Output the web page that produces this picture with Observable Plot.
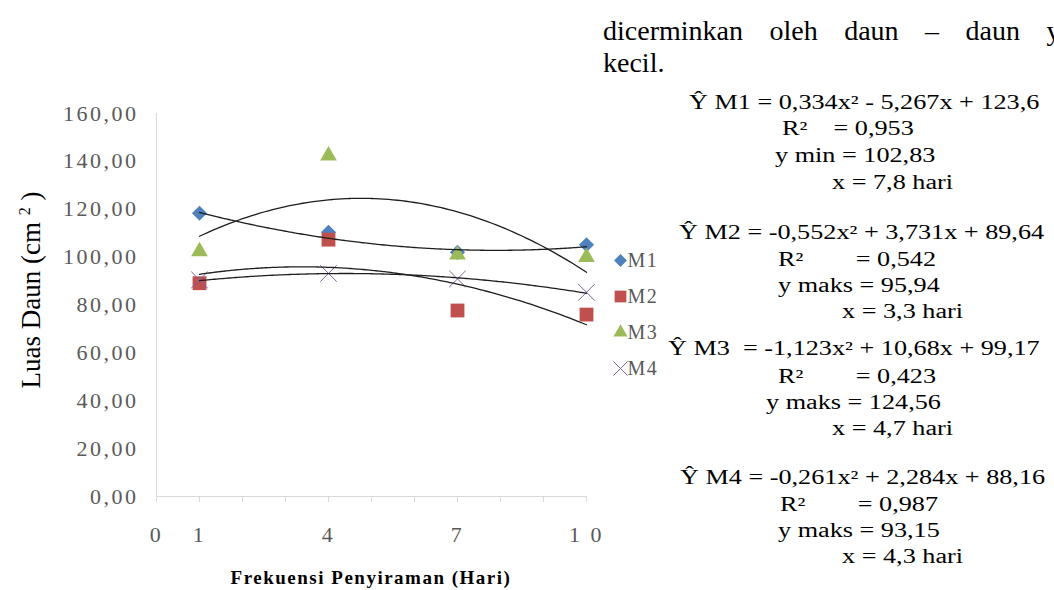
<!DOCTYPE html>
<html>
<head>
<meta charset="utf-8">
<script src="https://cdn.jsdelivr.net/npm/d3@7"></script>
<script src="https://cdn.jsdelivr.net/npm/@observablehq/plot@0.6"></script>
<style>
  body { margin: 0; background: #fff; }
  #wrap { position: relative; width: 1054px; height: 590px; overflow: hidden; background: #fff;
          font-family: "Liberation Serif", "Times New Roman", serif; color: #000; }
  .abs { position: absolute; white-space: nowrap; }
  #chart, #legend { position: absolute; }
  #chart svg text { letter-spacing: 2.5px; }
  #legend svg text { letter-spacing: 1.5px; }
  .eq { position: absolute; white-space: nowrap; font-size: 20px; line-height: 20px;
        transform: scaleX(1.31); transform-origin: 0 50%; }
  .top { position: absolute; white-space: nowrap; font-size: 28px; line-height: 32px; word-spacing: 19.5px; }
</style>
</head>
<body>
<div id="wrap">
  <div id="chart" style="left:0;top:0"></div>
  <div id="legend" style="left:600px;top:240px"></div>
</div>
<script>
// ---- data ----
const series = ["M1", "M2", "M3", "M4"];
const days = [1, 4, 7, 10];
const M1 = [118.3, 110.4, 102.0, 105.2];
const M2 = [89.1, 107.3, 77.7, 76.0];
const M3 = [102.4, 142.4, 101.0, 100.0];
const M4 = [90.5, 93.2, 90.9, 85.3];
// polynomial trend coefficients (from the equations shown): y = a x^2 + b x + c
const trendA = [0.334, -0.552, -1.123, -0.261];
const trendB = [-5.267, 3.731, 10.68, 2.284];
const trendC = [123.6, 89.64, 99.17, 88.16];
const yTicks = [0, 20, 40, 60, 80, 100, 120, 140, 160];
const xTickMarks = [0, 1, 2, 3, 4, 5, 6, 7, 8, 9, 10];
const xTickLabels = [0, 1, 4, 7, 10];
const xLabelText = ["0", "1", "4", "7", "1 0"];
const colors = ["#4f81bd", "#c0504d", "#9bbb59", "#8064a2"];
const symbols = ["diamond2", "square", "triangle", "times"];
const radii = [6.8, 7.8, 6.2, 7.6];

const topLines = ["dicerminkan oleh daun – daun yang", "kecil."];
const eqLines = [
  {x: 689, y: 102, t: "Ŷ M1 = 0,334x² - 5,267x + 123,6"},
  {x: 782, y: 128, t: "R²&nbsp;&nbsp;&nbsp;&nbsp;= 0,953"},
  {x: 775, y: 155, t: "y min = 102,83"},
  {x: 832, y: 182, t: "x = 7,8 hari"},
  {x: 679, y: 232, t: "Ŷ M2 = -0,552x² + 3,731x + 89,64"},
  {x: 778, y: 259, t: "R²&nbsp;&nbsp;&nbsp;&nbsp;&nbsp;&nbsp;&nbsp;&nbsp;= 0,542"},
  {x: 778, y: 285, t: "y maks = 95,94"},
  {x: 842, y: 311, t: "x = 3,3 hari"},
  {x: 668, y: 348, t: "Ŷ M3&nbsp;&nbsp;= -1,123x² + 10,68x + 99,17"},
  {x: 778, y: 376, t: "R²&nbsp;&nbsp;&nbsp;&nbsp;&nbsp;&nbsp;&nbsp;&nbsp;= 0,423"},
  {x: 766, y: 402, t: "y maks = 124,56"},
  {x: 832, y: 428, t: "x = 4,7 hari"},
  {x: 680, y: 477, t: "Ŷ M4 = -0,261x² + 2,284x + 88,16"},
  {x: 780, y: 504, t: "R²&nbsp;&nbsp;&nbsp;&nbsp;&nbsp;&nbsp;&nbsp;&nbsp;= 0,987"},
  {x: 778, y: 530, t: "y maks = 93,15"},
  {x: 842, y: 556, t: "x = 4,3 hari"}
];

// ---- build tables ----
const values = [M1, M2, M3, M4];
const points = series.map((s, i) => days.map((d, j) => ({series: s, day: d, value: values[i][j]})));
const xs = d3.range(1, 10.0001, 0.1);
const trend = series.flatMap((s, i) => xs.map(x => ({series: s, day: x,
  value: trendA[i] * x * x + trendB[i] * x + trendC[i]})));

const dotMarks = series.map((s, i) => Plot.dot(points[i], {
  x: "day", y: "value", symbol: () => symbols[i], r: radii[i],
  fill: i === 3 ? "none" : colors[i],
  stroke: i === 3 ? colors[i] : "none",
  strokeWidth: i === 3 ? 1 : 0
}));

const chart = Plot.plot({
  width: 620, height: 590,
  marginLeft: 156, marginRight: 34, marginTop: 113, marginBottom: 94,
  x: {domain: [0, 10]},
  y: {domain: [0, 160]},
  symbol: {type: "identity"},
  style: {fontFamily: "'Liberation Serif', 'Times New Roman', serif", fontSize: "22px", background: "transparent", overflow: "visible"},
  marks: [
    Plot.ruleX([0], {stroke: "#d9d9d9", strokeWidth: 1}),
    Plot.ruleY([0], {stroke: "#d9d9d9", strokeWidth: 1}),
    Plot.axisX({ticks: xTickMarks, tickSize: 6, tickFormat: () => "", color: "#d9d9d9", label: null}),
    Plot.axisX({ticks: xTickLabels, tickSize: 0, tickPadding: 30,
      tickFormat: d => xLabelText[xTickLabels.indexOf(d)], color: "#595959", label: null}),
    Plot.axisY({ticks: yTicks, tickSize: 0, tickPadding: 18,
      tickFormat: d => d.toFixed(2).replace(".", ","), color: "#595959", label: null}),
    ...dotMarks,
    Plot.line(trend, {x: "day", y: "value", z: "series", stroke: "#1e1e1e", strokeWidth: 1.3, curve: "natural"})
  ]
});
document.getElementById("chart").appendChild(chart);

// legend
const legendMarks = series.flatMap((s, i) => [
  Plot.dot([s], {y: d => d, frameAnchor: "left", dx: 20, symbol: () => symbols[i], r: radii[i] * 0.85,
    fill: i === 3 ? "none" : colors[i], stroke: i === 3 ? colors[i] : "none", strokeWidth: i === 3 ? 1 : 0}),
  Plot.text([s], {y: d => d, text: d => d, frameAnchor: "left", dx: 27, textAnchor: "start", fill: "#595959"})
]);
const legend = Plot.plot({
  width: 90, height: 150, margin: 0,
  y: {type: "point", domain: series, range: [20, 128], padding: 0},
  symbol: {type: "identity"},
  axis: null,
  style: {fontFamily: "'Liberation Serif', 'Times New Roman', serif", fontSize: "20px", background: "transparent", overflow: "visible"},
  marks: legendMarks
});
document.getElementById("legend").appendChild(legend);

// text blocks
const wrap = document.getElementById("wrap");
const topDiv = document.createElement("div");
topDiv.className = "top";
topDiv.style.left = "603px"; topDiv.style.top = "15px";
topDiv.innerHTML = topLines.join("<br>");
wrap.appendChild(topDiv);

eqLines.forEach(e => {
  const d = document.createElement("div");
  d.className = "eq";
  d.style.left = e.x + "px"; d.style.top = (e.y - 10) + "px";
  d.innerHTML = e.t;
  wrap.appendChild(d);
});

const yTitle = document.createElement("div");
yTitle.className = "abs";
yTitle.style.cssText = "left:31px;top:290px;font-size:27px;transform:translate(-50%,-50%) rotate(-90deg);";
yTitle.innerHTML = "Luas Daun (cm <sup style='font-size:16px'>2</sup> )";
wrap.appendChild(yTitle);

const xTitle = document.createElement("div");
xTitle.className = "abs";
xTitle.style.cssText = "left:371px;top:578px;font-size:19px;font-weight:bold;letter-spacing:1.5px;transform:translate(-50%,-50%);";
xTitle.textContent = "Frekuensi Penyiraman (Hari)";
wrap.appendChild(xTitle);
</script>
</body>
</html>
